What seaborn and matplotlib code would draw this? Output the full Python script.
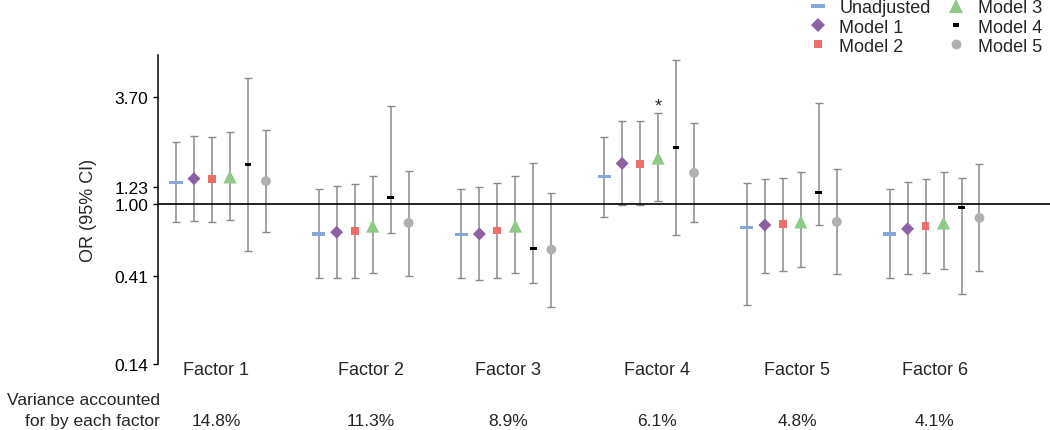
import numpy as np
import pandas as pd
import matplotlib
matplotlib.use("Agg")
import matplotlib.pyplot as plt
import seaborn as sns

# ---------------- data ----------------
factors = ["Factor 1", "Factor 2", "Factor 3", "Factor 4", "Factor 5", "Factor 6"]
variance = ["14.8%", "11.3%", "8.9%", "6.1%", "4.8%", "4.1%"]
models = ["Unadjusted", "Model 1", "Model 2", "Model 3", "Model 4", "Model 5"]

or_unadj = [1.30, 0.69, 0.685, 1.39, 0.75, 0.69]
lo_unadj = [0.80, 0.40, 0.40, 0.85, 0.29, 0.40]
hi_unadj = [2.13, 1.20, 1.20, 2.26, 1.285, 1.20]

or_m1 = [1.36, 0.705, 0.69, 1.64, 0.77, 0.735]
lo_m1 = [0.81, 0.40, 0.39, 0.99, 0.43, 0.42]
hi_m1 = [2.29, 1.24, 1.23, 2.76, 1.35, 1.31]

or_m2 = [1.355, 0.717, 0.72, 1.63, 0.78, 0.76]
lo_m2 = [0.80, 0.40, 0.40, 0.99, 0.44, 0.43]
hi_m2 = [2.27, 1.275, 1.29, 2.75, 1.37, 1.35]

or_m3 = [1.39, 0.76, 0.76, 1.75, 0.80, 0.79]
lo_m3 = [0.82, 0.43, 0.43, 1.04, 0.46, 0.45]
hi_m3 = [2.41, 1.40, 1.41, 3.05, 1.47, 1.47]

or_m4 = [1.61, 1.08, 0.58, 1.99, 1.15, 0.95]
lo_m4 = [0.56, 0.70, 0.38, 0.68, 0.77, 0.33]
hi_m4 = [4.66, 3.31, 1.64, 5.86, 3.45, 1.37]

or_m5 = [1.32, 0.79, 0.57, 1.46, 0.80, 0.84]
lo_m5 = [0.71, 0.41, 0.28, 0.80, 0.42, 0.44]
hi_m5 = [2.48, 1.50, 1.14, 2.68, 1.535, 1.62]

ytick_values = [0.14, 0.41, 1.00, 1.23, 3.70]
significant = [("Factor 4", "Model 3")]

# ---------------- styling ----------------
colors = {"Unadjusted": "#86A8D8", "Model 1": "#8B63A3", "Model 2": "#EE6E6E",
          "Model 3": "#8FC987", "Model 4": "#000000", "Model 5": "#B0B0B0"}
wide_dash = [(-1, -0.24), (1, -0.24), (1, 0.24), (-1, 0.24)]
short_dash = [(-1, -0.46), (1, -0.46), (1, 0.46), (-1, 0.46)]
markers = {"Unadjusted": wide_dash, "Model 1": "D", "Model 2": "s",
           "Model 3": "^", "Model 4": short_dash, "Model 5": "o"}
sizes = {"Unadjusted": 90, "Model 1": 44, "Model 2": 32,
         "Model 3": 90, "Model 4": 24, "Model 5": 50}
label_shift = [-0.035, 0.05, 0.01, 0.055, 0.036, 0.003]
step = 0.126

series = {
    "Unadjusted": (or_unadj, lo_unadj, hi_unadj),
    "Model 1": (or_m1, lo_m1, hi_m1),
    "Model 2": (or_m2, lo_m2, hi_m2),
    "Model 3": (or_m3, lo_m3, hi_m3),
    "Model 4": (or_m4, lo_m4, hi_m4),
    "Model 5": (or_m5, lo_m5, hi_m5),
}

rows = []
for j, m in enumerate(models):
    o, lo, hi = series[m]
    for i, f in enumerate(factors):
        rows.append({"factor": f, "model": m, "x": i + (j - 2.5) * step,
                     "OR": o[i], "lo": lo[i], "hi": hi[i]})
df = pd.DataFrame(rows)

sns.set_style("ticks")
plt.rcParams["font.family"] = ["Liberation Sans", "DejaVu Sans"]
plt.rcParams["font.size"] = 12.5

fig = plt.figure(figsize=(10.5, 4.31), dpi=100)
ax = fig.add_axes([158 / 1050, 1 - 365 / 431, 1 - 158 / 1050, (365 - 56) / 431])

# error bars
for m in models:
    d = df[df.model == m]
    ax.errorbar(d.x, d.OR, yerr=[d.OR - d.lo, d.hi - d.OR], fmt="none",
                ecolor="#8A8A8A", elinewidth=1.1, capsize=2.9, capthick=1.0,
                zorder=1)

ax.axhline(1.0, color="black", lw=1.2, zorder=1.5)

sns.scatterplot(data=df, x="x", y="OR", hue="model", style="model", size="model",
                hue_order=models, style_order=models, size_order=models,
                palette=colors, markers=markers, sizes=sizes, linewidth=0,
                legend="full", ax=ax, zorder=3)

ax.set_yscale("log")
ax.set_ylim(0.14, 6.2)
ax.set_xlim(-0.441, 5.809)
ax.set_yticks(ytick_values)
ax.set_yticklabels([f"{v:.2f}" for v in ytick_values])
ax.yaxis.set_minor_locator(matplotlib.ticker.NullLocator())
ax.set_xticks([])
ax.set_xlabel("")
ax.set_ylabel("OR (95% CI)", fontsize=13)
ax.yaxis.set_label_coords(-0.068, 0.5)
ax.tick_params(axis="y", length=3.5, width=1.0, color="black", pad=3.5,
               labelsize=12.5, labelcolor="black")
for s in ["top", "right", "bottom"]:
    ax.spines[s].set_visible(False)
ax.spines["left"].set_linewidth(1.1)
ax.spines["left"].set_color("black")

# significance marks
for f, m in significant:
    d = df[(df.factor == f) & (df.model == m)].iloc[0]
    ax.annotate("*", xy=(d.x, d.hi), xytext=(0, 1.5), textcoords="offset points",
                ha="center", va="baseline", fontsize=13)

# factor labels and variance labels
trans = ax.get_xaxis_transform()
for i, f in enumerate(factors):
    ax.text(i + label_shift[i], -0.032, f, transform=trans, ha="center",
            va="baseline", fontsize=13, clip_on=False)
    ax.text(i + label_shift[i], -0.197, variance[i], transform=trans, ha="center",
            va="baseline", fontsize=12.5, clip_on=False)
fig.text(160 / 1050, 1 - 405 / 431, "Variance accounted", ha="right",
         va="baseline", fontsize=12.5)
fig.text(160 / 1050, 1 - 426 / 431, "for by each factor", ha="right",
         va="baseline", fontsize=12.5)

sns.move_legend(ax, "upper right", bbox_to_anchor=(1042 / 1050, 0.999),
                bbox_transform=fig.transFigure, ncol=2, title=None,
                frameon=False, fontsize=13, labelspacing=0.12,
                handlelength=1.2, handletextpad=0.6, columnspacing=0.8,
                borderpad=0, borderaxespad=0)

fig.savefig("out.png", dpi=100)
